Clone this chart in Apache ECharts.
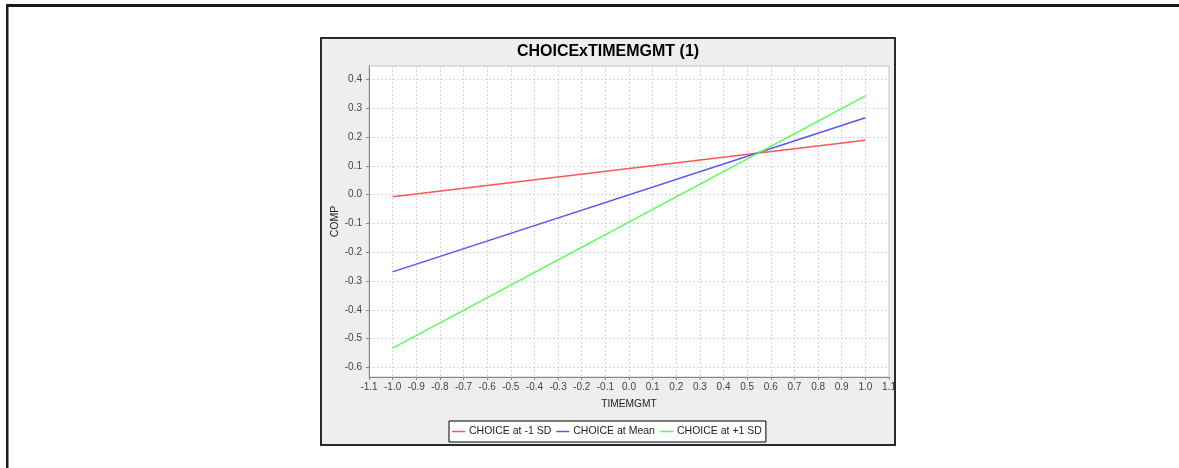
<!DOCTYPE html>
<html>
<head>
<meta charset="utf-8">
<script src="https://cdn.jsdelivr.net/npm/echarts@6/dist/echarts.min.js"></script>
<style>
  html, body { margin: 0; padding: 0; background: #ffffff; }
  #chart { width: 1179px; height: 468px; }
</style>
</head>
<body>
<div id="chart"></div>
<script>
// ---- data ----
const titleText = 'CHOICExTIMEMGMT (1)';
const xAxisName = 'TIMEMGMT';
const yAxisName = 'COMP';
const seriesNames = ['CHOICE at -1 SD', 'CHOICE at Mean', 'CHOICE at +1 SD'];
const timemgmt = [-1.0, 1.0];
const compLow = [-0.007, 0.189];
const compMean = [-0.268, 0.267];
const compHigh = [-0.533, 0.343];
const xTicks = [-1.1, -1.0, -0.9, -0.8, -0.7, -0.6, -0.5, -0.4, -0.3, -0.2, -0.1, 0.0, 0.1, 0.2, 0.3, 0.4, 0.5, 0.6, 0.7, 0.8, 0.9, 1.0, 1.1];
const yTicks = [-0.6, -0.5, -0.4, -0.3, -0.2, -0.1, 0.0, 0.1, 0.2, 0.3, 0.4];

const colors = ['#ff5555', '#5555ff', '#55ff55'];
const sans = '"Liberation Sans", Arial, sans-serif';

function pairs(xs, ys) { return xs.map((x, i) => [x, ys[i]]); }
const fmt = v => { const s = Number(v).toFixed(1); return s === '-0.0' ? '0.0' : s; };

const chart = echarts.init(document.getElementById('chart'), null, { renderer: 'canvas' });
chart.setOption({
  animation: false,
  backgroundColor: '#ffffff',
  graphic: [
    { type: 'rect', z: -10, shape: { x: 6, y: 4, width: 1173, height: 3 }, style: { fill: '#1a1a1a' } },
    { type: 'rect', z: -10, shape: { x: 6, y: 4, width: 2.5, height: 464 }, style: { fill: '#1a1a1a' } },
    { type: 'rect', z: -10, shape: { x: 321, y: 38, width: 574, height: 407 }, style: { fill: '#eeeeee', stroke: '#2a2a2a', lineWidth: 2 } }
  ],
  title: {
    text: titleText,
    left: 608,
    textAlign: 'center',
    top: 44,
    padding: 0,
    textStyle: { fontFamily: sans, fontSize: 16, fontWeight: 'bold', color: '#000000' }
  },
  legend: {
    left: 449,
    top: 421,
    orient: 'horizontal',
    data: seriesNames,
    icon: 'rect',
    itemWidth: 13,
    itemHeight: 1.5,
    itemGap: 5,
    padding: [5, 4, 5, 3],
    backgroundColor: '#ffffff',
    borderColor: '#000000',
    borderWidth: 1,
    borderRadius: 0,
    textStyle: { fontFamily: sans, fontSize: 10.5, color: '#222222', padding: [0, 0, 0, -1] }
  },
  grid: {
    left: 369, top: 66, width: 520, height: 311,
    show: true, backgroundColor: '#ffffff', borderColor: '#c4c4c4', borderWidth: 1,
    containLabel: false
  },
  xAxis: {
    type: 'value',
    min: -1.1, max: 1.1,
    name: xAxisName,
    nameLocation: 'middle',
    nameGap: 22,
    nameTextStyle: { fontFamily: sans, fontSize: 10.2, color: '#222222' },
    axisLine: { show: true, onZero: false, lineStyle: { color: '#888888', width: 1 } },
    axisTick: { show: true, length: 3, lineStyle: { color: '#888888' }, customValues: xTicks },
    axisLabel: { customValues: xTicks, formatter: fmt, fontFamily: sans, fontSize: 10, color: '#444444', margin: 5 },
    splitLine: { show: true, lineStyle: { color: '#d6d6d6', type: [2, 2], width: 1 } }
  },
  yAxis: {
    type: 'value',
    min: -0.633, max: 0.447,
    name: yAxisName,
    nameLocation: 'middle',
    nameRotate: 90,
    nameGap: 21,
    nameTextStyle: { fontFamily: sans, fontSize: 10.5, color: '#222222' },
    axisLine: { show: true, onZero: false, lineStyle: { color: '#888888', width: 1 } },
    axisTick: { show: true, length: 3, lineStyle: { color: '#888888' }, customValues: yTicks },
    axisLabel: { customValues: yTicks, formatter: fmt, fontFamily: sans, fontSize: 10, color: '#444444', margin: 7 },
    splitLine: { show: true, lineStyle: { color: '#d6d6d6', type: [2, 2], width: 1 } }
  },
  series: [
    { name: seriesNames[0], type: 'line', data: pairs(timemgmt, compLow), showSymbol: false, color: colors[0], lineStyle: { width: 1.5, color: colors[0] } },
    { name: seriesNames[1], type: 'line', data: pairs(timemgmt, compMean), showSymbol: false, color: colors[1], lineStyle: { width: 1.5, color: colors[1] } },
    { name: seriesNames[2], type: 'line', data: pairs(timemgmt, compHigh), showSymbol: false, color: colors[2], lineStyle: { width: 1.5, color: colors[2] } }
  ]
});
</script>
</body>
</html>
